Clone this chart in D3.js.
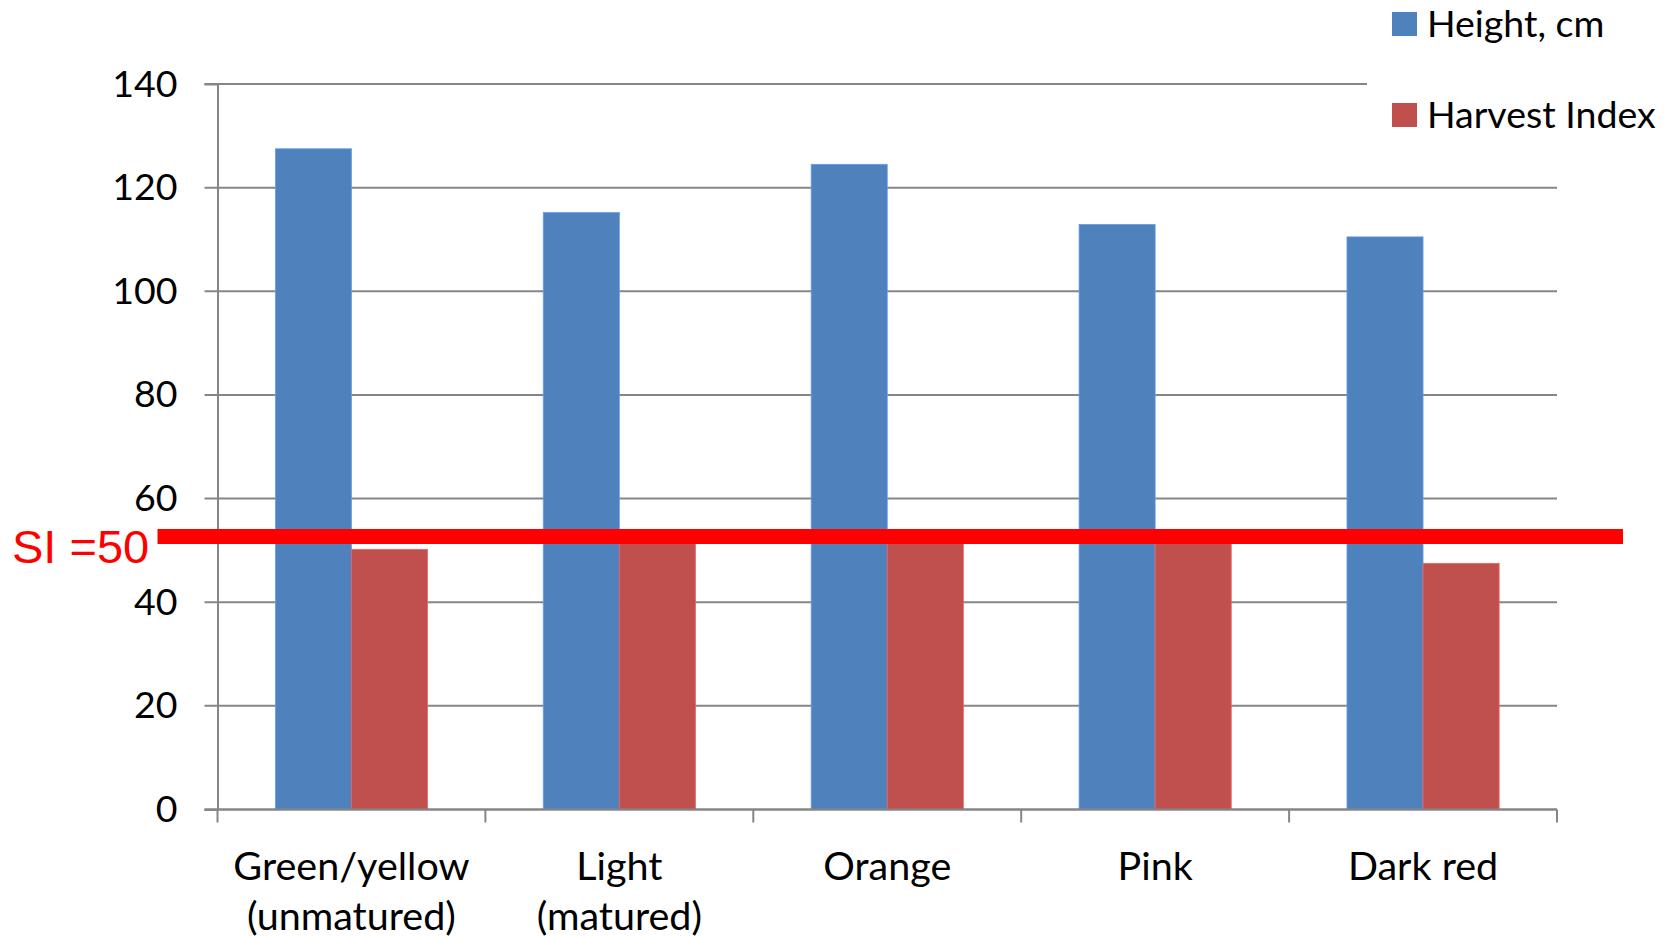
<!DOCTYPE html>
<html>
<head>
	<meta charset=utf-8>
	<title>Height and Harvest Index</title>
	<script src="https://d3js.org/d3.v7.min.js"></script>
	<style type="text/css">
		body{
			margin: 0;
			background: #fff;
		}
		text{
			font-family: Lato, "Open Sans", sans-serif;
			fill: #000;
		}
	</style>
</head>
<body>
	<svg id="chart" width="1678" height="937"></svg>

	<script type="text/javascript">
		const categories = ['Green/yellow\n(unmatured)', 'Light\n(matured)', 'Orange', 'Pink', 'Dark red'];
		const seriesNames = ['Height, cm', 'Harvest Index'];
		const heightCm = [127.5, 115.2, 124.5, 112.9, 110.5];
		const harvestIndex = [50.2, 52, 52, 52, 47.5];
		const yTicks = [0, 20, 40, 60, 80, 100, 120, 140];
		const siLevel = 52.7;
		const siLabel = 'SI =50';
		const colors = ['#4F81BD', '#C0504D'];

		const svg = d3.select('#chart');
		const plotLeft = 217.5, plotRight = 1557, plotTop = 84, plotBottom = 809.5;

		const x = d3.scaleBand()
			.domain(categories)
			.range([plotLeft, plotRight]);

		const x1 = d3.scaleBand()
			.domain(seriesNames)
			.range([x.bandwidth() * 0.216, x.bandwidth() * 0.784]);

		const y = d3.scaleLinear()
			.domain([0, 140])
			.range([plotBottom, plotTop]);

		// gridlines
		svg.append('g')
			.selectAll('line')
			.data(yTicks)
			.enter()
			.append('line')
			.attr('x1', plotLeft - 13)
			.attr('x2', plotRight)
			.attr('y1', d => y(d))
			.attr('y2', d => y(d))
			.attr('stroke', '#868686')
			.attr('stroke-width', 2);

		// y axis
		const yAxis = svg.append('g')
			.attr('transform', `translate(${plotLeft},0)`)
			.call(d3.axisLeft(y).tickValues(yTicks).tickSize(13).tickPadding(27));
		yAxis.select('.domain').attr('stroke', '#868686').attr('stroke-width', 2);
		yAxis.selectAll('.tick line').remove();
		yAxis.selectAll('text')
			.style('font-size', '37.5px')
			.style('font-family', 'Lato, sans-serif');

		// bars
		const groups = svg.append('g')
			.selectAll('g')
			.data(categories.map((c, i) => ({cat: c, vals: [heightCm[i], harvestIndex[i]]})))
			.enter()
			.append('g')
			.attr('transform', d => `translate(${x(d.cat)},0)`);

		groups.selectAll('rect')
			.data(d => d.vals.map((v, i) => ({key: seriesNames[i], val: v, i: i})))
			.enter()
			.append('rect')
			.attr('x', d => x1(d.key))
			.attr('y', d => y(d.val))
			.attr('width', x1.bandwidth())
			.attr('height', d => y(0) - y(d.val))
			.attr('fill', d => colors[d.i])
			.attr('stroke', d => d3.color(colors[d.i]).brighter(0.6))
			.attr('stroke-width', 0.8);

		// x axis
		const xAxis = svg.append('g')
			.attr('transform', `translate(0,${plotBottom})`);
		xAxis.append('line')
			.attr('x1', plotLeft - 13)
			.attr('x2', plotRight)
			.attr('stroke', '#868686')
			.attr('stroke-width', 2);
		xAxis.selectAll('.xtick')
			.data(categories.map(c => x(c)).concat([plotRight]))
			.enter()
			.append('line')
			.attr('x1', d => d)
			.attr('x2', d => d)
			.attr('y1', 0)
			.attr('y2', 13)
			.attr('stroke', '#868686')
			.attr('stroke-width', 2);

		xAxis.selectAll('.xlabel')
			.data(categories)
			.enter()
			.append('text')
			.attr('text-anchor', 'middle')
			.style('font-size', '39.5px')
			.attr('transform', d => `translate(${x(d) + x.bandwidth() / 2},70)`)
			.selectAll('tspan')
			.data(d => d.split('\n'))
			.enter()
			.append('tspan')
			.attr('x', 0)
			.attr('dy', (d, i) => i ? 50 : 0)
			.text(d => d);

		// legend (white box hides the top gridline end)
		const legend = svg.append('g');
		legend.append('rect')
			.attr('x', 1367)
			.attr('y', 0)
			.attr('width', 311)
			.attr('height', 140)
			.attr('fill', '#fff');
		const items = legend.selectAll('g')
			.data(seriesNames)
			.enter()
			.append('g')
			.attr('transform', (d, i) => `translate(1392,${13 + i * 91})`);
		items.append('rect')
			.attr('y', -1)
			.attr('width', 25)
			.attr('height', 24)
			.attr('fill', (d, i) => colors[i]);
		items.append('text')
			.attr('x', 35)
			.attr('y', 24)
			.style('font-size', '37.5px')
			.text(d => d);

		// SI threshold annotation
		svg.append('line')
			.attr('x1', plotLeft - 60)
			.attr('x2', plotRight + 66)
			.attr('y1', y(siLevel))
			.attr('y2', y(siLevel))
			.attr('stroke', '#FF0000')
			.attr('stroke-width', 15);
		svg.append('text')
			.attr('x', 12)
			.attr('y', y(siLevel) + 27)
			.style('font-family', '"Liberation Sans", Arial, sans-serif')
			.style('font-size', '47px')
			.style('fill', '#FF0000')
			.text(siLabel);
	</script>
</body>
</html>
